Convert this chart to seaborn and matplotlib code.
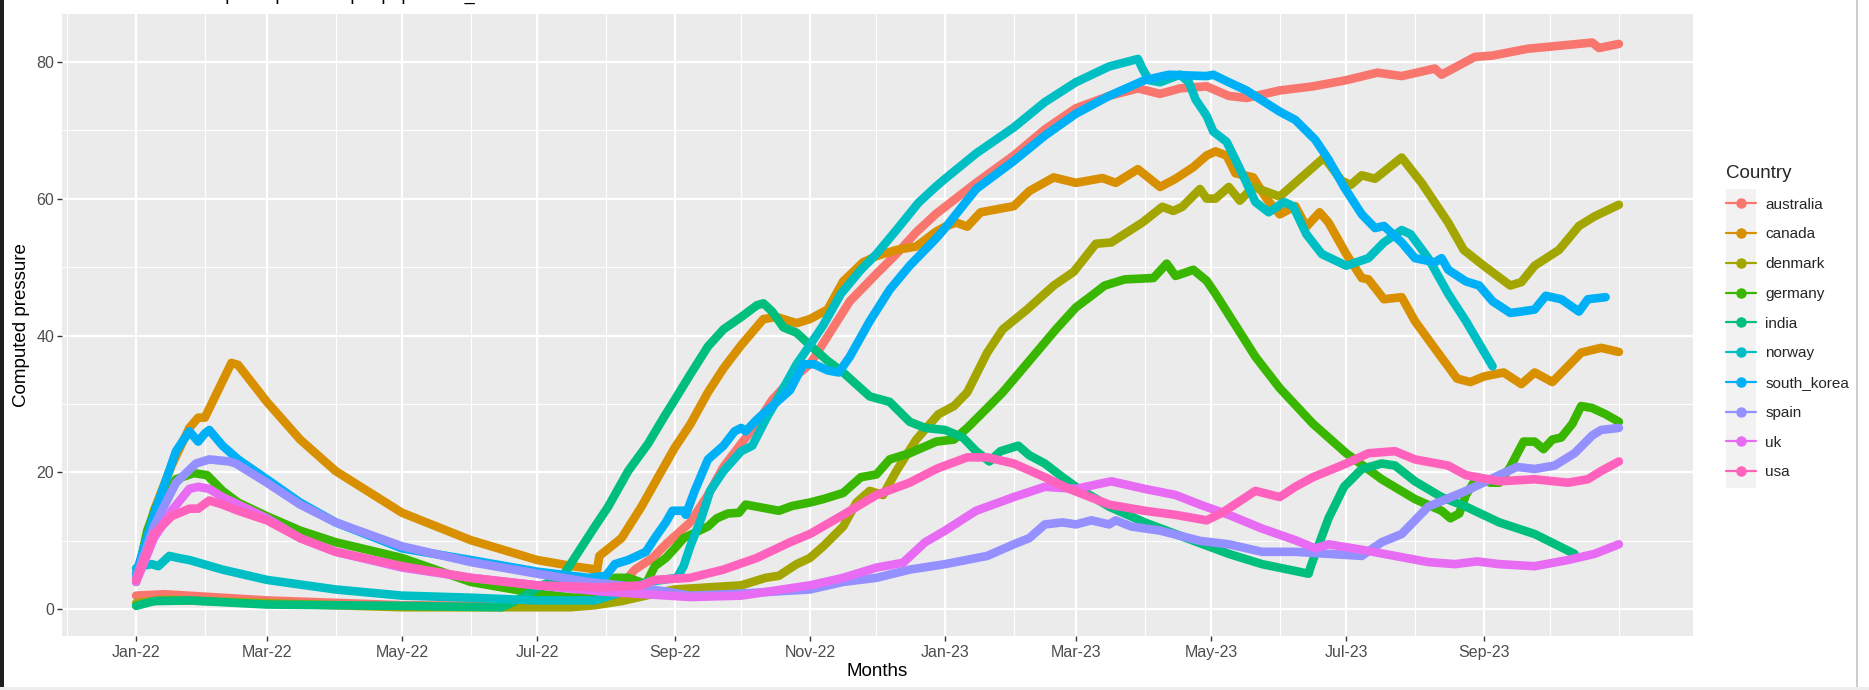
import matplotlib
matplotlib.use('Agg')
import matplotlib.pyplot as plt
from matplotlib.lines import Line2D
from matplotlib.patches import Rectangle
import pandas as pd
import seaborn as sns

# ── Data (date, computed pressure) ────────────────────────────────────────────
australia = [("2022-01-01", 2.0), ("2022-01-14", 2.2), ("2022-03-01", 1.3), ("2022-05-01", 0.6),
             ("2022-06-15", 0.5), ("2022-07-12", 0.5), ("2022-07-21", 1.3), ("2022-07-30", 2.0),
             ("2022-08-08", 3.5), ("2022-08-14", 5.8), ("2022-08-22", 7.5), ("2022-08-28", 9.5),
             ("2022-09-08", 12.7), ("2022-09-16", 16.7), ("2022-09-23", 20.8), ("2022-10-01", 24.2),
             ("2022-10-08", 27.1), ("2022-10-15", 30.6), ("2022-10-23", 33.4), ("2022-11-01", 35.8),
             ("2022-11-10", 40.4), ("2022-11-19", 45.0), ("2022-12-01", 49.0), ("2022-12-10", 51.9),
             ("2022-12-19", 55.1), ("2022-12-28", 57.8), ("2023-01-01", 58.8), ("2023-01-15", 62.3),
             ("2023-02-01", 66.3), ("2023-02-15", 70.1), ("2023-03-01", 73.2), ("2023-03-16", 75.0),
             ("2023-03-29", 76.1), ("2023-04-08", 75.3), ("2023-04-17", 76.1), ("2023-04-29", 76.4),
             ("2023-05-09", 75.0), ("2023-05-17", 74.7), ("2023-06-01", 75.8), ("2023-06-16", 76.4),
             ("2023-07-01", 77.3), ("2023-07-15", 78.4), ("2023-07-26", 77.9), ("2023-08-10", 79.0),
             ("2023-08-13", 78.1), ("2023-08-28", 80.7), ("2023-09-05", 80.9), ("2023-09-21", 81.9),
             ("2023-10-01", 82.2), ("2023-10-20", 82.8), ("2023-10-23", 82.0), ("2023-11-01", 82.6)]

canada = [("2022-01-01", 4.6), ("2022-01-09", 14.4), ("2022-01-17", 21.0), ("2022-01-25", 26.5),
          ("2022-01-29", 28.0), ("2022-02-01", 28.0), ("2022-02-13", 36.0), ("2022-02-16", 35.7),
          ("2022-03-01", 30.3), ("2022-03-16", 24.8), ("2022-04-01", 20.2), ("2022-05-01", 14.1),
          ("2022-06-01", 10.1), ("2022-07-01", 7.2), ("2022-07-17", 6.3), ("2022-07-28", 5.8),
          ("2022-07-29", 7.8), ("2022-08-08", 10.4), ("2022-08-17", 15.0), ("2022-08-25", 19.6),
          ("2022-09-01", 23.6), ("2022-09-08", 27.0), ("2022-09-16", 31.7), ("2022-09-23", 35.2),
          ("2022-10-01", 38.6), ("2022-10-11", 42.4), ("2022-10-17", 42.7), ("2022-10-26", 41.8),
          ("2022-11-01", 42.4), ("2022-11-09", 43.8), ("2022-11-16", 47.9), ("2022-11-25", 50.7),
          ("2022-12-01", 51.6), ("2022-12-10", 52.5), ("2022-12-19", 53.0), ("2022-12-28", 55.2),
          ("2023-01-01", 55.9), ("2023-01-06", 56.5), ("2023-01-11", 55.9), ("2023-01-17", 58.0),
          ("2023-02-01", 58.9), ("2023-02-08", 61.1), ("2023-02-19", 63.1), ("2023-03-01", 62.3),
          ("2023-03-13", 63.0), ("2023-03-19", 62.3), ("2023-03-29", 64.3), ("2023-04-08", 61.7),
          ("2023-04-15", 62.9), ("2023-04-23", 64.6), ("2023-04-29", 66.3), ("2023-05-03", 66.9),
          ("2023-05-08", 66.3), ("2023-05-12", 63.7), ("2023-05-20", 63.1), ("2023-05-26", 60.0),
          ("2023-06-01", 57.7), ("2023-06-08", 58.9), ("2023-06-13", 55.9), ("2023-06-19", 58.0),
          ("2023-06-23", 56.5), ("2023-07-01", 51.9), ("2023-07-08", 48.4), ("2023-07-11", 48.2),
          ("2023-07-18", 45.3), ("2023-07-26", 45.6), ("2023-08-01", 42.1), ("2023-08-10", 38.1),
          ("2023-08-20", 33.7), ("2023-08-26", 33.2), ("2023-09-01", 34.0), ("2023-09-10", 34.6),
          ("2023-09-18", 32.9), ("2023-09-24", 34.6), ("2023-10-02", 33.2), ("2023-10-09", 35.5),
          ("2023-10-15", 37.5), ("2023-10-24", 38.2), ("2023-11-01", 37.6)]

denmark = [("2022-01-01", 0.9), ("2022-01-14", 1.4), ("2022-03-01", 0.9), ("2022-05-01", 0.3),
           ("2022-07-16", 0.3), ("2022-07-27", 0.6), ("2022-08-08", 1.2), ("2022-08-23", 2.3),
           ("2022-09-01", 2.9), ("2022-09-16", 3.2), ("2022-10-01", 3.5), ("2022-10-12", 4.6),
           ("2022-10-18", 4.9), ("2022-10-26", 6.6), ("2022-11-01", 7.5), ("2022-11-07", 9.2),
           ("2022-11-16", 12.1), ("2022-11-22", 15.6), ("2022-11-28", 17.3), ("2022-12-04", 16.7),
           ("2022-12-10", 20.2), ("2022-12-19", 24.8), ("2022-12-29", 28.5), ("2023-01-05", 29.7),
           ("2023-01-11", 31.7), ("2023-01-20", 37.5), ("2023-01-27", 40.9), ("2023-02-07", 43.8),
           ("2023-02-19", 47.3), ("2023-02-28", 49.3), ("2023-03-10", 53.4), ("2023-03-17", 53.6),
           ("2023-03-31", 56.5), ("2023-04-09", 58.8), ("2023-04-14", 58.2), ("2023-04-18", 58.8),
           ("2023-04-26", 61.4), ("2023-04-29", 60.0), ("2023-05-03", 60.0), ("2023-05-09", 61.7),
           ("2023-05-14", 59.7), ("2023-05-20", 61.7), ("2023-06-01", 60.3), ("2023-06-08", 62.3),
           ("2023-06-21", 66.0), ("2023-06-29", 62.6), ("2023-07-03", 62.0), ("2023-07-08", 63.4),
           ("2023-07-14", 62.9), ("2023-07-26", 66.0), ("2023-08-04", 62.3), ("2023-08-16", 56.5),
           ("2023-08-23", 52.5), ("2023-09-01", 50.2), ("2023-09-13", 47.3), ("2023-09-18", 47.8),
           ("2023-09-24", 50.2), ("2023-10-05", 52.5), ("2023-10-14", 56.0), ("2023-10-21", 57.4),
           ("2023-11-01", 59.1)]

germany = [("2022-01-01", 4.0), ("2022-01-06", 11.5), ("2022-01-10", 15.0), ("2022-01-14", 16.7),
           ("2022-01-19", 19.0), ("2022-01-27", 19.9), ("2022-02-02", 19.6), ("2022-02-09", 17.3),
           ("2022-02-16", 15.6), ("2022-03-01", 13.6), ("2022-03-16", 11.5), ("2022-04-01", 9.8),
           ("2022-05-01", 7.5), ("2022-06-01", 4.0), ("2022-07-01", 2.3), ("2022-07-17", 1.7),
           ("2022-07-30", 2.0), ("2022-08-05", 4.6), ("2022-08-11", 4.6), ("2022-08-19", 3.7),
           ("2022-08-23", 6.3), ("2022-08-28", 7.5), ("2022-09-01", 8.9), ("2022-09-05", 10.4),
           ("2022-09-16", 12.1), ("2022-09-20", 13.3), ("2022-09-25", 14.0), ("2022-09-30", 14.1),
           ("2022-10-03", 15.3), ("2022-10-08", 15.0), ("2022-10-18", 14.4), ("2022-10-24", 15.1),
           ("2022-11-01", 15.6), ("2022-11-07", 16.1), ("2022-11-16", 17.0), ("2022-11-24", 19.3),
           ("2022-12-01", 19.7), ("2022-12-07", 21.9), ("2022-12-16", 22.8), ("2022-12-28", 24.5),
           ("2023-01-05", 24.8), ("2023-01-11", 26.5), ("2023-01-20", 29.4), ("2023-01-27", 31.7),
           ("2023-02-08", 36.3), ("2023-02-20", 40.9), ("2023-03-01", 44.1), ("2023-03-08", 45.8),
           ("2023-03-14", 47.3), ("2023-03-23", 48.2), ("2023-04-05", 48.4), ("2023-04-11", 50.5),
           ("2023-04-15", 48.7), ("2023-04-23", 49.6), ("2023-04-29", 48.0), ("2023-05-03", 46.1),
           ("2023-05-12", 41.5), ("2023-05-21", 36.9), ("2023-06-01", 32.3), ("2023-06-16", 27.1),
           ("2023-07-01", 22.8), ("2023-07-17", 19.0), ("2023-08-01", 16.1), ("2023-08-13", 14.4),
           ("2023-08-17", 13.3), ("2023-08-21", 14.0), ("2023-08-24", 16.7), ("2023-08-29", 19.3),
           ("2023-09-04", 18.5), ("2023-09-08", 18.5), ("2023-09-13", 20.8), ("2023-09-19", 24.5),
           ("2023-09-24", 24.5), ("2023-09-28", 23.4), ("2023-10-02", 24.8), ("2023-10-06", 25.1),
           ("2023-10-11", 27.1), ("2023-10-15", 29.7), ("2023-10-20", 29.4), ("2023-10-26", 28.5),
           ("2023-11-01", 27.4)]

india = [("2022-01-01", 0.5), ("2022-01-09", 1.2), ("2022-01-25", 1.3), ("2022-03-01", 0.7),
         ("2022-05-01", 0.5), ("2022-06-15", 0.3), ("2022-06-24", 1.7), ("2022-07-03", 3.5),
         ("2022-07-12", 4.6), ("2022-07-19", 8.1), ("2022-07-27", 12.1), ("2022-08-02", 15.0),
         ("2022-08-11", 20.2), ("2022-08-20", 24.2), ("2022-08-27", 28.0), ("2022-09-01", 30.6),
         ("2022-09-08", 34.3), ("2022-09-16", 38.4), ("2022-09-23", 40.9), ("2022-10-01", 42.7),
         ("2022-10-08", 44.4), ("2022-10-11", 44.7), ("2022-10-15", 43.5), ("2022-10-20", 41.2),
         ("2022-10-26", 40.4), ("2022-11-01", 38.6), ("2022-11-09", 36.3), ("2022-11-16", 34.6),
         ("2022-11-28", 31.1), ("2022-12-07", 30.3), ("2022-12-16", 27.4), ("2022-12-23", 26.5),
         ("2023-01-01", 26.2), ("2023-01-09", 25.1), ("2023-01-15", 23.1), ("2023-01-21", 21.6),
         ("2023-01-26", 23.1), ("2023-02-03", 23.9), ("2023-02-08", 22.5), ("2023-02-15", 21.3),
         ("2023-02-23", 19.3), ("2023-03-01", 17.9), ("2023-03-16", 15.0), ("2023-04-01", 12.7),
         ("2023-04-15", 11.0), ("2023-04-29", 9.3), ("2023-05-09", 8.1), ("2023-05-24", 6.6),
         ("2023-06-14", 5.2), ("2023-06-15", 6.3), ("2023-06-19", 9.8), ("2023-06-23", 13.3),
         ("2023-06-30", 17.9), ("2023-07-08", 20.5), ("2023-07-17", 21.3), ("2023-07-23", 21.0),
         ("2023-08-01", 18.7), ("2023-08-13", 16.4), ("2023-08-24", 15.0), ("2023-09-08", 12.7),
         ("2023-09-24", 11.0), ("2023-10-12", 8.1)]

norway = [("2022-01-01", 6.0), ("2022-01-03", 6.3), ("2022-01-08", 6.6), ("2022-01-11", 6.3),
          ("2022-01-16", 7.8), ("2022-01-20", 7.5), ("2022-01-25", 7.2), ("2022-02-09", 5.8),
          ("2022-03-01", 4.3), ("2022-04-01", 2.9), ("2022-05-01", 2.0), ("2022-06-01", 1.7),
          ("2022-07-01", 1.3), ("2022-07-27", 1.3), ("2022-08-08", 2.5), ("2022-08-20", 4.0),
          ("2022-09-02", 4.6), ("2022-09-05", 6.3), ("2022-09-08", 9.2), ("2022-09-13", 13.3),
          ("2022-09-17", 17.3), ("2022-09-23", 20.2), ("2022-10-01", 23.1), ("2022-10-06", 23.9),
          ("2022-10-12", 27.7), ("2022-10-18", 31.1), ("2022-10-26", 35.8), ("2022-11-01", 38.6),
          ("2022-11-07", 41.5), ("2022-11-15", 46.1), ("2022-11-24", 49.6), ("2022-12-01", 51.9),
          ("2022-12-10", 55.4), ("2022-12-20", 59.4), ("2022-12-28", 61.8), ("2023-01-01", 62.9),
          ("2023-01-15", 66.6), ("2023-02-01", 70.4), ("2023-02-15", 74.1), ("2023-03-01", 77.0),
          ("2023-03-16", 79.3), ("2023-03-29", 80.4), ("2023-03-31", 79.0), ("2023-04-03", 77.3),
          ("2023-04-08", 77.0), ("2023-04-17", 78.1), ("2023-04-21", 77.0), ("2023-04-24", 74.5),
          ("2023-04-29", 72.1), ("2023-05-02", 69.8), ("2023-05-08", 68.3), ("2023-05-12", 65.7),
          ("2023-05-17", 62.3), ("2023-05-21", 59.5), ("2023-05-27", 58.0), ("2023-06-03", 59.5),
          ("2023-06-07", 58.9), ("2023-06-13", 54.8), ("2023-06-20", 51.9), ("2023-07-01", 50.2),
          ("2023-07-11", 51.3), ("2023-07-18", 53.6), ("2023-07-26", 55.4), ("2023-07-30", 54.8),
          ("2023-08-07", 51.3), ("2023-08-16", 46.1), ("2023-08-24", 42.1), ("2023-09-05", 35.5)]

south_korea = [("2022-01-01", 5.2), ("2022-01-09", 13.8), ("2022-01-19", 23.1), ("2022-01-25", 26.0),
               ("2022-01-29", 24.5), ("2022-02-01", 25.7), ("2022-02-03", 26.2), ("2022-02-09", 23.9),
               ("2022-02-16", 21.9), ("2022-03-01", 19.0), ("2022-03-16", 15.6), ("2022-04-01", 12.7),
               ("2022-05-01", 8.9), ("2022-06-01", 7.2), ("2022-07-01", 5.5), ("2022-07-24", 4.6),
               ("2022-08-01", 4.9), ("2022-08-05", 6.6), ("2022-08-11", 7.2), ("2022-08-19", 8.4),
               ("2022-08-23", 10.4), ("2022-08-28", 12.7), ("2022-08-31", 14.4), ("2022-09-05", 14.4),
               ("2022-09-06", 13.8), ("2022-09-10", 17.3), ("2022-09-16", 21.9), ("2022-09-23", 23.9),
               ("2022-09-28", 26.0), ("2022-10-01", 26.5), ("2022-10-03", 26.0), ("2022-10-08", 27.7),
               ("2022-10-15", 29.7), ("2022-10-23", 32.0), ("2022-10-29", 35.8), ("2022-11-03", 35.8),
               ("2022-11-09", 34.9), ("2022-11-14", 34.6), ("2022-11-19", 36.9), ("2022-11-28", 42.1),
               ("2022-12-07", 46.7), ("2022-12-16", 50.2), ("2022-12-28", 54.2), ("2023-01-01", 55.7),
               ("2023-01-15", 61.4), ("2023-02-01", 65.5), ("2023-02-15", 69.2), ("2023-03-01", 72.4),
               ("2023-03-16", 75.0), ("2023-04-01", 77.3), ("2023-04-12", 78.1), ("2023-04-29", 77.9),
               ("2023-05-02", 78.1), ("2023-05-09", 77.0), ("2023-05-17", 75.8), ("2023-06-01", 72.7),
               ("2023-06-08", 71.5), ("2023-06-17", 68.6), ("2023-06-23", 65.7), ("2023-06-30", 61.7),
               ("2023-07-08", 57.7), ("2023-07-14", 55.7), ("2023-07-18", 56.0), ("2023-07-26", 53.6),
               ("2023-08-01", 51.3), ("2023-08-10", 50.7), ("2023-08-13", 51.3), ("2023-08-16", 49.6),
               ("2023-08-24", 47.9), ("2023-08-30", 47.3), ("2023-09-05", 45.0), ("2023-09-13", 43.3),
               ("2023-09-18", 43.5), ("2023-09-24", 43.8), ("2023-09-29", 45.8), ("2023-10-06", 45.3),
               ("2023-10-14", 43.5), ("2023-10-18", 45.3), ("2023-10-26", 45.6)]

spain = [("2022-01-01", 4.6), ("2022-01-09", 12.1), ("2022-01-19", 18.5), ("2022-01-28", 21.3),
         ("2022-02-03", 21.9), ("2022-02-12", 21.6), ("2022-02-15", 21.3), ("2022-03-01", 18.5),
         ("2022-03-16", 15.3), ("2022-04-01", 12.7), ("2022-05-01", 9.2), ("2022-06-01", 6.9),
         ("2022-07-01", 5.2), ("2022-07-24", 4.0), ("2022-08-08", 3.5), ("2022-08-28", 2.6),
         ("2022-09-08", 2.0), ("2022-10-01", 2.3), ("2022-11-01", 2.9), ("2022-11-16", 4.0),
         ("2022-12-01", 4.6), ("2022-12-16", 5.8), ("2022-12-28", 6.4), ("2023-01-01", 6.6),
         ("2023-01-20", 7.8), ("2023-02-01", 9.5), ("2023-02-08", 10.4), ("2023-02-15", 12.4),
         ("2023-02-23", 12.7), ("2023-03-01", 12.4), ("2023-03-08", 13.0), ("2023-03-16", 12.4),
         ("2023-03-19", 13.0), ("2023-03-26", 12.1), ("2023-04-08", 11.5), ("2023-04-26", 10.0),
         ("2023-05-09", 9.5), ("2023-05-24", 8.4), ("2023-06-08", 8.4), ("2023-06-23", 8.1),
         ("2023-07-08", 7.8), ("2023-07-17", 9.8), ("2023-07-26", 11.0), ("2023-08-07", 15.0),
         ("2023-08-24", 17.3), ("2023-09-08", 19.6), ("2023-09-16", 20.8), ("2023-09-24", 20.5),
         ("2023-10-03", 21.0), ("2023-10-12", 22.8), ("2023-10-20", 25.4), ("2023-10-24", 26.2),
         ("2023-11-01", 26.5)]

uk = [("2022-01-01", 4.0), ("2022-01-09", 10.4), ("2022-01-17", 14.4), ("2022-01-25", 17.6),
      ("2022-01-29", 17.9), ("2022-02-03", 17.6), ("2022-02-09", 16.4), ("2022-03-01", 13.3),
      ("2022-03-16", 10.4), ("2022-04-01", 8.4), ("2022-05-01", 6.1), ("2022-06-01", 4.6),
      ("2022-07-01", 3.5), ("2022-07-30", 2.6), ("2022-08-29", 2.0), ("2022-09-08", 1.8),
      ("2022-10-01", 2.0), ("2022-11-01", 3.5), ("2022-11-16", 4.6), ("2022-12-01", 6.1),
      ("2022-12-13", 6.8), ("2022-12-23", 9.8), ("2023-01-01", 11.5), ("2023-01-15", 14.4),
      ("2023-02-01", 16.4), ("2023-02-15", 17.9), ("2023-03-01", 17.6), ("2023-03-17", 18.7),
      ("2023-04-01", 17.6), ("2023-04-15", 16.7), ("2023-04-26", 15.3), ("2023-05-09", 13.8),
      ("2023-05-24", 11.8), ("2023-06-08", 10.1), ("2023-06-17", 8.9), ("2023-06-23", 9.5),
      ("2023-07-08", 8.7), ("2023-07-23", 7.8), ("2023-08-07", 6.9), ("2023-08-19", 6.6),
      ("2023-08-29", 7.0), ("2023-09-08", 6.6), ("2023-09-24", 6.3), ("2023-10-09", 7.2),
      ("2023-10-21", 8.1), ("2023-11-01", 9.5)]

usa = [("2022-01-01", 4.3), ("2022-01-09", 11.0), ("2022-01-17", 13.6), ("2022-01-25", 14.7),
       ("2022-01-29", 14.7), ("2022-02-03", 15.9), ("2022-02-09", 15.3), ("2022-02-16", 14.4),
       ("2022-03-01", 13.0), ("2022-03-16", 10.4), ("2022-04-01", 8.4), ("2022-05-01", 6.3),
       ("2022-06-01", 4.6), ("2022-07-01", 3.5), ("2022-07-30", 3.2), ("2022-08-17", 3.5),
       ("2022-08-23", 4.3), ("2022-09-08", 4.6), ("2022-09-23", 5.8), ("2022-10-08", 7.5),
       ("2022-10-23", 9.8), ("2022-11-01", 11.0), ("2022-11-16", 13.8), ("2022-12-01", 16.7),
       ("2022-12-16", 18.5), ("2022-12-28", 20.5), ("2023-01-01", 21.0), ("2023-01-11", 22.2),
       ("2023-01-20", 22.2), ("2023-02-01", 21.3), ("2023-02-15", 19.3), ("2023-02-26", 17.6),
       ("2023-03-16", 15.3), ("2023-04-01", 14.4), ("2023-04-15", 13.8), ("2023-04-29", 13.0),
       ("2023-05-06", 14.1), ("2023-05-21", 17.3), ("2023-06-01", 16.4), ("2023-06-08", 17.9),
       ("2023-06-16", 19.3), ("2023-07-01", 21.3), ("2023-07-11", 22.8), ("2023-07-23", 23.1),
       ("2023-08-01", 21.9), ("2023-08-16", 21.0), ("2023-08-24", 19.6), ("2023-09-08", 18.7),
       ("2023-09-24", 19.0), ("2023-10-09", 18.5), ("2023-10-18", 19.0), ("2023-10-24", 20.2),
       ("2023-11-01", 21.6)]

COUNTRIES = ['australia', 'canada', 'denmark', 'germany', 'india',
             'norway', 'south_korea', 'spain', 'uk', 'usa']
SERIES = [australia, canada, denmark, germany, india, norway, south_korea, spain, uk, usa]
# ggplot2 default hue palette for 10 groups
COLORS = ['#F8766D', '#D89000', '#A3A500', '#39B600', '#00BF7D',
          '#00BFC4', '#00B0F6', '#9590FF', '#E76BF3', '#FF62BC']
MAJOR_TICKS = ['2022-01-01', '2022-03-01', '2022-05-01', '2022-07-01', '2022-09-01', '2022-11-01',
               '2023-01-01', '2023-03-01', '2023-05-01', '2023-07-01', '2023-09-01']
# only the descenders of the title survive in the screenshot; wording is a best guess
TITLE = 'Evolution of the computed pressure per population_size'

frames = []
for name, pts in zip(COUNTRIES, SERIES):
    d = pd.DataFrame(pts, columns=['date', 'pressure'])
    d['country'] = name
    frames.append(d)
df = pd.concat(frames, ignore_index=True)
df['date'] = pd.to_datetime(df['date'])

# ── Style (ggplot2 theme_grey look) ───────────────────────────────────────────
sns.set_theme(style='darkgrid')
plt.rcParams['font.family'] = ['Liberation Sans', 'DejaVu Sans']
plt.rcParams['axes.facecolor'] = '#EBEBEB'

fig = plt.figure(figsize=(18.69, 6.90), dpi=100)
ax = fig.add_axes([62 / 1869, 1 - 635.5 / 690, (1693 - 62) / 1869, (635.5 - 14.3) / 690])

sns.lineplot(data=df, x='date', y='pressure', hue='country', hue_order=COUNTRIES,
             palette=COLORS, linewidth=6.2, estimator=None, sort=False, legend=False, ax=ax)
for ln in ax.get_lines():
    ln.set_solid_capstyle('round')
    ln.set_solid_joinstyle('round')

# limits with ggplot's 5% expansion
d0, d1 = df['date'].min(), df['date'].max()
pad = (d1 - d0) * 0.05
ax.set_xlim(d0 - pad, d1 + pad)
lo, hi = df['pressure'].min(), df['pressure'].max()
ypad = (hi - lo) * 0.05
ax.set_ylim(lo - ypad, hi + ypad)

major = pd.to_datetime(MAJOR_TICKS)
minor = [m for m in pd.date_range('2021-12-01', '2023-11-01', freq='MS') if m not in set(major)]
ax.set_xticks(major)
ax.set_xticklabels([m.strftime('%b-%y') for m in major])
ax.set_xticks(minor, minor=True)
ax.set_yticks([0, 20, 40, 60, 80])
ax.set_yticks([10, 30, 50, 70], minor=True)

ax.grid(which='major', color='white', linewidth=1.6)
ax.grid(which='minor', color='white', linewidth=0.8)
ax.set_axisbelow(True)
for s in ax.spines.values():
    s.set_visible(False)
ax.tick_params(which='major', length=3.5, width=1.0, color='#333333', labelcolor='#4D4D4D',
               labelsize=11.5, bottom=True, left=True)
ax.tick_params(axis='x', pad=3)
ax.tick_params(axis='y', pad=2)
ax.tick_params(which='minor', length=0)

ax.set_xlabel('Months', fontsize=13.5, color='black')
ax.set_ylabel('Computed pressure', fontsize=13.5, color='black')
ax.xaxis.set_label_coords(0.5, -0.045)
ax.yaxis.set_label_coords(-0.0195, 0.5)

# title – cut off by the top edge in the screenshot
fig.text(62 / 1869, 1.0, TITLE, fontsize=13, ha='left', va='baseline', color='black')

# ── Legend ────────────────────────────────────────────────────────────────────
handles = [Line2D([0], [0], color=c, lw=1.6, marker='o', markersize=6.5) for c in COLORS]
fig.patches.append(Rectangle((1726 / 1869, 1 - 488 / 690), 30 / 1869, 299 / 690,
                             transform=fig.transFigure, facecolor='#F2F2F2',
                             edgecolor='none', zorder=1))
leg = fig.legend(handles, COUNTRIES, title='Country', loc='upper left',
                 bbox_to_anchor=(1726 / 1869, 1 - 165 / 690), frameon=False, fontsize=11,
                 title_fontsize=13.5, handlelength=1.96, handletextpad=0.6,
                 labelspacing=1.03, borderpad=0, borderaxespad=0)
leg._legend_box.align = 'left'

# screenshot frame
fig.patches.append(Rectangle((0, 0), 4 / 1869, 1, transform=fig.transFigure,
                             facecolor='#1E1E1E', edgecolor='none'))
fig.patches.append(Rectangle((1856 / 1869, 0), 1.5 / 1869, 1, transform=fig.transFigure,
                             facecolor='#CCCCCC', edgecolor='none'))
fig.patches.append(Rectangle((0, 0), 1, 3 / 690, transform=fig.transFigure,
                             facecolor='#EEEEEE', edgecolor='none'))

fig.savefig('out.png', dpi=100)
